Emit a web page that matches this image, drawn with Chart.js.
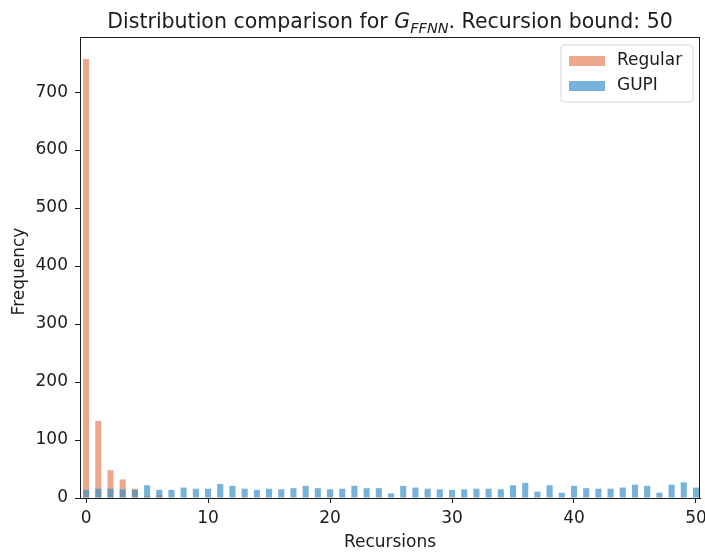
<!DOCTYPE html>
<html>
<head>
<meta charset="utf-8">
<script src="https://cdn.jsdelivr.net/npm/chart.js@4/dist/chart.umd.min.js"></script>
<style>
  html, body { margin: 0; padding: 0; background: #fff; }
  #c { display: block; }
</style>
</head>
<body>
<canvas id="c" width="705" height="557"></canvas>
<script>
// Recursion depth reached (histogram bins)
const recursions = [0, 1, 2, 3, 4, 5, 6, 7, 8, 9, 10, 11, 12, 13, 14, 15, 16, 17, 18, 19, 20,
  21, 22, 23, 24, 25, 26, 27, 28, 29, 30, 31, 32, 33, 34, 35, 36, 37, 38, 39, 40,
  41, 42, 43, 44, 45, 46, 47, 48, 49, 50];

// Frequency per recursion depth, regular sampling
const regularCounts = [757, 133, 48, 32, 16, 3, 5, 0, 0, 0, 0, 0, 0, 0, 0, 0, 0, 0, 0, 0, 0,
  0, 0, 0, 0, 0, 0, 0, 0, 0, 0, 0, 0, 0, 0, 0, 0, 0, 0, 0, 0,
  0, 0, 0, 0, 0, 0, 0, 0, 0, 0];

// Frequency per recursion depth, GUPI sampling
const gupiCounts = [14, 16, 16, 15, 14, 22, 14, 14, 18, 16, 16, 24, 21, 16, 14, 16, 15, 17, 21, 17, 15,
  16, 21, 17, 17, 8, 21, 18, 16, 15, 14, 15, 16, 16, 15, 22, 26, 11, 22, 9, 21,
  17, 16, 16, 18, 23, 21, 9, 23, 27, 18];

const xTicks = [0, 10, 20, 30, 40, 50];
const yTicks = [0, 100, 200, 300, 400, 500, 600, 700];

const seriesNames = ['Regular', 'GUPI'];
const seriesColors = ['rgba(228, 125, 85, 0.68)', 'rgba(55, 142, 202, 0.68)'];

const FONT = 'DejaVu Sans';
const INK = '#1c1c1c';
const LABEL_SIZE = 17;

function toPoints(values) {
  return recursions.map((r, i) => ({ x: r, y: values[i] }));
}

// Frame, title, axis titles and legend drawn on top of the plot
const decorations = {
  id: 'decorations',
  afterDraw(chart) {
    const ctx = chart.ctx;
    const a = chart.chartArea;
    ctx.save();

    // full box around the plot area
    ctx.strokeStyle = INK;
    ctx.lineWidth = 1;
    ctx.strokeRect(Math.round(a.left) + 0.5, Math.round(a.top) + 0.5,
      Math.round(a.right - a.left) - 1, Math.round(a.bottom - a.top));

    ctx.fillStyle = INK;
    ctx.textBaseline = 'alphabetic';

    // title with italic subscripted symbol
    const parts = [
      { t: 'Distribution comparison for ', f: `20.5px "${FONT}"`, dy: 0 },
      { t: 'G', f: `italic 20.5px "${FONT}"`, dy: 0 },
      { t: 'FFNN', f: `italic 14.5px "${FONT}"`, dy: 4.5 },
      { t: '. Recursion bound: 50', f: `20.5px "${FONT}"`, dy: 0 }
    ];
    let total = 0;
    parts.forEach(p => { ctx.font = p.f; p.w = ctx.measureText(p.t).width; total += p.w; });
    let x = (a.left + a.right) / 2 - total / 2;
    ctx.textAlign = 'left';
    parts.forEach(p => { ctx.font = p.f; ctx.fillText(p.t, x, 28 + p.dy); x += p.w; });

    // x axis title
    ctx.font = `${LABEL_SIZE}px "${FONT}"`;
    ctx.textAlign = 'center';
    ctx.textBaseline = 'middle';
    ctx.fillText('Recursions', (a.left + a.right) / 2, 543);

    // y axis title
    ctx.save();
    ctx.translate(20, (a.top + a.bottom) / 2 + 4);
    ctx.rotate(-Math.PI / 2);
    ctx.fillText('Frequency', 0, 0);
    ctx.restore();

    // legend
    const lx = 561, ly = 45, lw = 132, lh = 57, r = 3;
    ctx.beginPath();
    ctx.moveTo(lx + r, ly);
    ctx.arcTo(lx + lw, ly, lx + lw, ly + lh, r);
    ctx.arcTo(lx + lw, ly + lh, lx, ly + lh, r);
    ctx.arcTo(lx, ly + lh, lx, ly, r);
    ctx.arcTo(lx, ly, lx + lw, ly, r);
    ctx.closePath();
    ctx.fillStyle = 'rgba(255,255,255,0.8)';
    ctx.fill();
    ctx.strokeStyle = '#d6d6d6';
    ctx.stroke();

    ctx.font = `${LABEL_SIZE}px "${FONT}"`;
    ctx.textAlign = 'left';
    ctx.textBaseline = 'middle';
    seriesNames.forEach((name, i) => {
      const cy = 61 + i * 25;
      ctx.fillStyle = seriesColors[i];
      ctx.fillRect(569, cy - 5, 36, 10);
      ctx.fillStyle = INK;
      ctx.fillText(name, 617, cy);
    });

    ctx.restore();
  }
};

const tickFont = { family: FONT, size: LABEL_SIZE };

new Chart(document.getElementById('c'), {
  type: 'bar',
  data: {
    datasets: [
      {
        label: seriesNames[1],
        data: toPoints(gupiCounts),
        backgroundColor: seriesColors[1],
        borderWidth: 0,
        order: 0
      },
      {
        label: seriesNames[0],
        data: toPoints(regularCounts),
        backgroundColor: seriesColors[0],
        borderWidth: 0,
        order: 1
      }
    ]
  },
  options: {
    responsive: false,
    animation: false,
    devicePixelRatio: 1,
    layout: { padding: { top: 37, right: 5, left: 0, bottom: 0 } },
    datasets: {
      bar: { grouped: false, barPercentage: 0.5, categoryPercentage: 1 }
    },
    plugins: {
      legend: { display: false },
      title: { display: false },
      tooltip: { enabled: false }
    },
    scales: {
      x: {
        type: 'linear',
        offset: false,
        min: -0.5,
        max: 50.33,
        afterBuildTicks(scale) { scale.ticks = xTicks.map(v => ({ value: v })); },
        ticks: { font: tickFont, color: INK, padding: 5, includeBounds: false, maxRotation: 0 },
        grid: { offset: false, drawOnChartArea: false, drawTicks: true, tickLength: 5, color: INK },
        border: { color: INK, width: 1 },
        afterFit(scale) { scale.height = 59; scale.paddingLeft = 0; scale.paddingRight = 0; }
      },
      y: {
        type: 'linear',
        min: 0,
        max: 795,
        afterBuildTicks(scale) { scale.ticks = yTicks.map(v => ({ value: v })); },
        ticks: { font: tickFont, color: INK, padding: 7, includeBounds: false },
        grid: { drawOnChartArea: false, drawTicks: true, tickLength: 5, color: INK },
        border: { color: INK, width: 1 },
        afterFit(scale) { scale.width = 80; scale.paddingTop = 0; scale.paddingBottom = 0; }
      }
    }
  },
  plugins: [decorations]
});
</script>
</body>
</html>
